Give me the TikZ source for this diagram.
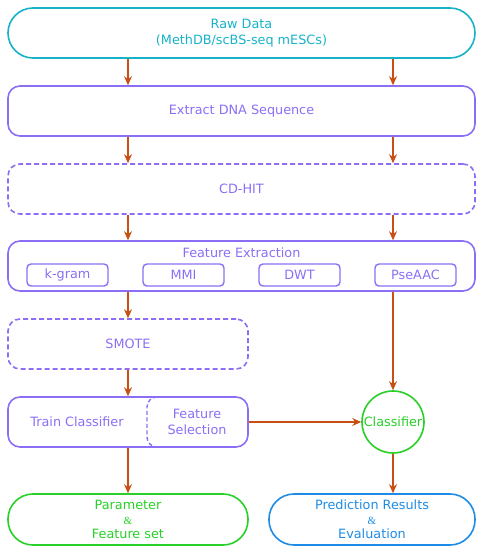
\documentclass[tikz,border=0pt]{standalone}
\usepackage{fontspec}
\setmainfont{DejaVu Sans}
\newfontfamily\ampfont{Liberation Serif}
\usetikzlibrary{arrows.meta}

\definecolor{rawcol}{RGB}{24,178,200}
\definecolor{stepcol}{RGB}{140,110,245}
\definecolor{okcol}{RGB}{40,208,40}
\definecolor{rescol}{RGB}{30,140,230}
\definecolor{arrcol}{RGB}{200,80,20}

\tikzset{
  box/.style={draw=stepcol, text=stepcol, line width=1.6pt, rounded corners=12pt,
    minimum height=50pt, align=center, inner sep=0pt},
  dashbox/.style={box, dash pattern=on 5pt off 3pt},
  pill/.style={draw, line width=1.6pt, rounded corners=25pt, minimum height=50pt,
    align=center, inner sep=0pt},
  subbox/.style={draw=stepcol, text=stepcol, line width=1.4pt, rounded corners=4pt,
    minimum width=81pt, minimum height=22pt, inner sep=0pt},
  arr/.style={draw=arrcol, line width=1.5pt, -{Stealth[length=9pt,width=8pt]}}
}

\begin{document}
\begin{tikzpicture}[x=1pt, y=1pt, font=\fontsize{12.8}{16.5}\selectfont]
\useasboundingbox (0,0) rectangle (484,550);

\node[pill, draw=rawcol, text=rawcol, minimum width=467pt] (raw) at (241.5,517) {Raw Data\\(MethDB/scBS-seq mESCs)};

\node[box, minimum width=467pt] (extract) at (241.5,439) {Extract DNA Sequence};

\node[dashbox, minimum width=467pt] (cdhit) at (241.5,361) {CD-HIT};

\node[box, minimum width=467pt] (feat) at (241.5,284) {};
\node[text=stepcol] (feattitle) at (241.5,297.5) {Feature Extraction};
\node[subbox] (kgram) at (67.5,275) {k-gram};
\node[subbox] (mmi) at (183.5,275) {MMI};
\node[subbox] (dwt) at (299.5,275) {DWT};
\node[subbox] (pseaac) at (415.5,275) {PseAAC};

\node[dashbox, minimum width=240pt] (smote) at (128,206) {SMOTE};

\node[box, minimum width=240pt] (train) at (128,128) {};
\node[text=stepcol] (traintext) at (77,128) {Train Classifier};
\node[text=stepcol, align=center] (seltext) at (197,128) {Feature\\Selection};
\draw[stepcol, line width=1.4pt, dash pattern=on 4pt off 2.5pt] (157,153) arc[start angle=90, end angle=180, radius=10]
  -- (147,113) arc[start angle=180, end angle=270, radius=10];

\node[circle, draw=okcol, text=okcol, line width=1.6pt, minimum size=62pt, inner sep=0pt] (clf) at (393,128) {Classifier};

\node[pill, draw=okcol, text=okcol, minimum width=240pt, minimum height=51pt] (param) at (128,30.5)
  {Parameter\\[-2pt]{\ampfont\fontsize{11}{12}\selectfont\&}\\[-2pt]Feature set};
\node[pill, draw=rescol, text=rescol, minimum width=206pt, minimum height=51pt] (pred) at (372,30.5)
  {Prediction Results\\[-2pt]{\ampfont\fontsize{11}{12}\selectfont\&}\\[-2pt]Evaluation};

% connectors
\draw[arr] (raw.south -| train) -- (extract.north -| train);
\draw[arr] (raw.south -| clf) -- (extract.north -| clf);
\draw[arr] (extract.south -| train) -- (cdhit.north -| train);
\draw[arr] (extract.south -| clf) -- (cdhit.north -| clf);
\draw[arr] (cdhit.south -| train) -- (feat.north -| train);
\draw[arr] (cdhit.south -| clf) -- (feat.north -| clf);
\draw[arr] (feat.south -| train) -- (smote.north);
\draw[arr] (feat.south -| clf) -- (clf.north);
\draw[arr] (smote.south) -- (train.north);
\draw[arr] (train.east) -- (clf.west);
\draw[arr] (train.south) -- (param.north);
\draw[arr] (clf.south) -- (pred.north -| clf);
\end{tikzpicture}
\end{document}
